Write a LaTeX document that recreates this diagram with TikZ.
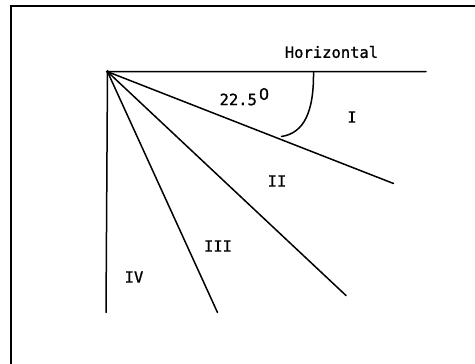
\documentclass[tikz,border=0pt]{standalone}
\usepackage{fontspec}
\newfontfamily\dotfont[FakeBold=1.2]{DejaVu Sans Mono}
\newfontfamily\digfont[FakeBold=1.2]{DejaVu Sans}
\usetikzlibrary{positioning}
\tikzset{
  every picture/.append style = {line width=1.5pt},
  ray/.style   = {line width=1.5pt, line cap=round},
  frame/.style = {line width=1.6pt},
  lbl/.style   = {font=\dotfont\fontsize{15.5}{15.5}\selectfont, inner sep=0pt},
}
\begin{document}
\begin{tikzpicture}[x=1pt, y=-1pt]
  \useasboundingbox (0,0) rectangle (475,364);
  % outer frame (only top and left are inside the picture)
  \draw[frame] (11,364) -- (11,6) -- (475,6);
  % rays from the corner
  \coordinate (o)  at (107.5,71.7);
  \coordinate (h)  at (426,71.7);
  \coordinate (v)  at (106,312.5);
  \coordinate (r1) at (393.5,183.5);
  \coordinate (r2) at (346,295.5);
  \coordinate (r3) at (217.5,312.5);
  \draw[ray] (h) -- (o) -- (v);
  \draw[ray] (o) -- (r1);
  \draw[ray] (o) -- (r2);
  \draw[ray] (o) -- (r3);
  \fill (o) circle (1.8);
  % angle mark
  \coordinate (a0) at (313.5,71.7);
  \coordinate (a1) at (281.5,136.5);
  \draw[ray] (a0) .. controls (314,112) and (304,133) .. (a1);
  % labels
  \node[lbl] (horiz) at (331.5,52) {Horizontal};
  \node[lbl] (ang)   at (238.3,99.5) {22.5};
  \node[lbl, font=\digfont\fontsize{16}{16}\selectfont, right=0.5pt of ang, yshift=5.5pt] (deg) {0};
  \node[lbl] (z1) at (352,117) {I};
  \node[lbl] (z2) at (277,181) {II};
  \node[lbl] (z3) at (218,246) {III};
  \node[lbl] (z4) at (134,277) {IV};
\end{tikzpicture}
\end{document}
